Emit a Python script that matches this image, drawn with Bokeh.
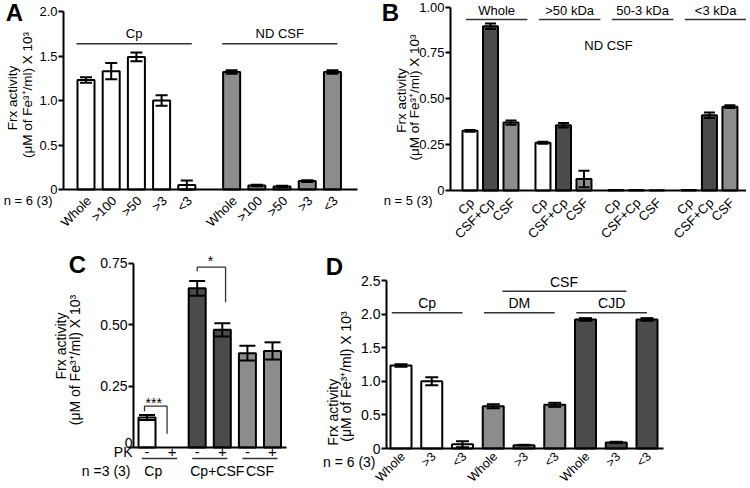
import math
from bokeh.plotting import figure
from bokeh.models import ColumnDataSource, Range1d, FixedTicker, Label
from bokeh.layouts import row, column
from bokeh.embed import file_html
from bokeh.resources import INLINE

FONT = "Liberation Sans"
DARK = "#4b4b4b"
GRAY = "#8c8c8c"
WHITE = "#ffffff"
LINE = "#333333"

Y_LINE1 = "Frx activity"
Y_LINE2 = "(\u03bcM of Fe\u00b3\u207a/ml) X 10\u00b3"

# ---------------- data ----------------
# Panel A
a_fractions = ["Whole", ">100", ">50", ">3", "<3"]
a_groups = ["Cp", "ND CSF"]
a_cp = [1.23, 1.33, 1.49, 1.00, 0.05]
a_cp_err = [0.03, 0.09, 0.05, 0.06, 0.05]
a_csf = [1.32, 0.045, 0.035, 0.095, 1.32]
a_csf_err = [0.02, 0.008, 0.006, 0.01, 0.02]
a_n = "n = 6 (3)"
a_yticks = [0, 0.5, 1.0, 1.5, 2.0]
a_yticklabels = ["0", "0.5", "1.0", "1.5", "2.0"]

# Panel B
b_groups = ["Whole", ">50 kDa", "50-3 kDa", "<3 kDa"]
b_samples = ["Cp", "CSF+Cp", "CSF"]
b_cp = [0.325, 0.26, 0.003, 0.003]
b_cp_err = [0.005, 0.005, 0.0, 0.0]
b_csfcp = [0.895, 0.356, 0.003, 0.41]
b_csfcp_err = [0.015, 0.012, 0.0, 0.015]
b_csf = [0.37, 0.063, 0.002, 0.457]
b_csf_err = [0.012, 0.045, 0.0, 0.008]
b_title = "ND CSF"
b_n = "n = 5 (3)"
b_yticks = [0, 0.25, 0.5, 0.75, 1.0]
b_yticklabels = ["0", "0.25", "0.50", "0.75", "1.00"]

# Panel C
c_groups = ["Cp", "Cp+CSF", "CSF"]
c_pk = ["-", "+"]
c_minus = [0.122, 0.648, 0.384]
c_minus_err = [0.01, 0.03, 0.03]
c_plus = [0.0, 0.479, 0.393]
c_plus_err = [0.0, 0.027, 0.035]
c_sig = ["***", "*"]
c_n = "n =3 (3)"
c_yticks = [0, 0.25, 0.5, 0.75]
c_yticklabels = ["0", "0.25", "0.50", "0.75"]

# Panel D
d_groups = ["Cp", "DM", "CJD"]
d_fractions = ["Whole", ">3", "<3"]
d_cp = [1.235, 1.0, 0.064]
d_cp_err = [0.02, 0.06, 0.045]
d_dm = [0.63, 0.05, 0.65]
d_dm_err = [0.03, 0.005, 0.03]
d_cjd = [1.92, 0.09, 1.92]
d_cjd_err = [0.02, 0.01, 0.02]
d_parent = "CSF"
d_n = "n = 6 (3)"
d_yticks = [0, 0.5, 1.0, 1.5, 2.0, 2.5]
d_yticklabels = ["0", "0.5", "1.0", "1.5", "2.0", "2.5"]


class Panel:
    """A figure whose frame covers its whole area; axes sit at fixed data locations."""

    def __init__(self, left, top, width, height, axis_left, axis_right,
                 zero_y, top_y, origin, slot, ymax):
        self.origin, self.slot, self.ymax = origin, slot, ymax
        self.zero_y = zero_y
        self.ppu = (zero_y - top_y) / ymax
        x0 = self.dx(left)
        x1 = self.dx(left + width)
        y0 = self.dy(top + height)
        y1 = self.dy(top)
        p = figure(width=width, height=height,
                   x_range=Range1d(x0, x1), y_range=Range1d(y0, y1),
                   output_backend="svg", toolbar_location=None,
                   min_border=0, min_border_left=0, min_border_right=0,
                   min_border_top=0, min_border_bottom=0)
        p.title.visible = False
        p.outline_line_color = None
        p.grid.visible = False
        p.background_fill_color = "white"
        p.border_fill_color = "white"
        self.p = p
        self.ax0 = self.dx(axis_left)
        self.ax1 = self.dx(axis_right)

    def dx(self, sx):
        return (sx - self.origin) / self.slot

    def dy(self, sy):
        return (self.zero_y - sy) / self.ppu

    def label(self, sx, sy, text, size, align="center", angle=0.0, bold=False):
        self.p.add_layout(Label(x=self.dx(sx), y=self.dy(sy), text=text,
                                text_font=FONT, text_font_size=f"{size}px",
                                text_align=align, text_baseline="middle",
                                angle=angle, text_color="black",
                                text_font_style="bold" if bold else "normal"))

    def dlabel(self, x, y, text, size, align="center", angle=0.0):
        self.p.add_layout(Label(x=x, y=y, text=text, text_font=FONT,
                                text_font_size=f"{size}px", text_align=align,
                                text_baseline="middle", text_color="black",
                                angle=angle))

    def xlabels(self, xs, names, size, below_px, shift_px):
        # category names written at 45 degrees under each bar
        for x, name in zip(xs, names):
            self.dlabel(x + shift_px / self.slot, self.dy(self.zero_y + below_px),
                        name, size, align="right", angle=math.pi / 4)

    def axes(self, yticks, yticklabels, xticks, xticklabels, fs, xfs):
        p = self.p
        for ax in (p.xaxis[0], p.yaxis[0]):
            ax.axis_line_width = 2
            ax.axis_line_color = "black"
            ax.major_label_text_font = FONT
            ax.major_label_text_color = "black"
            ax.minor_tick_line_color = None
            ax.minor_tick_out = 0
            ax.minor_tick_in = 0
        p.xaxis.fixed_location = 0
        p.xaxis.bounds = (self.ax0, self.ax1)
        p.yaxis.fixed_location = self.ax0
        p.yaxis.bounds = (0, self.ymax)
        p.yaxis.major_label_text_font_size = f"{fs}px"
        p.xaxis.major_label_text_font_size = f"{xfs}px"
        p.yaxis.ticker = FixedTicker(ticks=yticks)
        p.yaxis.major_label_overrides = {float(t): l for t, l in zip(yticks, yticklabels)}
        p.yaxis.major_tick_out = 5
        p.yaxis.major_tick_in = 0
        p.yaxis.major_tick_line_width = 2
        p.yaxis.major_label_standoff = 1
        xt = [round(x, 4) for x in xticks]
        p.xaxis.ticker = FixedTicker(ticks=xt)
        p.xaxis.major_label_overrides = {float(t): l for t, l in zip(xt, xticklabels)}
        p.xaxis.major_tick_line_color = None
        p.xaxis.major_tick_out = 0
        p.xaxis.major_tick_in = 0
        p.xaxis.major_label_standoff = -1

    def bars(self, xs, tops, errs, color, width_px, cap_px):
        w = width_px / self.slot
        cap = cap_px / self.slot
        xs = [round(x, 4) for x in xs]
        src = ColumnDataSource(dict(x=xs, top=tops))
        self.p.vbar(x="x", top="top", bottom=0, width=w, source=src,
                    fill_color=color, line_color="black", line_width=2)
        ex = [x for x, e in zip(xs, errs) if e > 0]
        et = [t for t, e in zip(tops, errs) if e > 0]
        ee = [e for e in errs if e > 0]
        if not ex:
            return
        hi = [t + e for t, e in zip(et, ee)]
        lo = [t - e for t, e in zip(et, ee)]
        self.p.segment(x0=ex, y0=lo, x1=ex, y1=hi, line_color="black", line_width=2)
        self.p.segment(x0=[x - cap / 2 for x in ex], y0=hi, x1=[x + cap / 2 for x in ex],
                       y1=hi, line_color="black", line_width=2)
        self.p.segment(x0=[x - cap / 2 for x in ex], y0=lo, x1=[x + cap / 2 for x in ex],
                       y1=lo, line_color="black", line_width=2)

    def hline(self, x0, x1, y, width=1.4):
        self.p.segment(x0=[x0], y0=[y], x1=[x1], y1=[y], line_color=LINE, line_width=width)


# ---------------- Panel A ----------------
A = Panel(0, 0, 370, 247, 63, 357, 189, 11, 85.5, 25.2, 2.0)
a_off = [0.0, 5.78]
a_x = [[g + i for i in range(len(a_fractions))] for g in a_off]
A.bars(a_x[0], a_cp, a_cp_err, WHITE, 17, 12)
A.bars(a_x[1], a_csf, a_csf_err, GRAY, 17, 12)
A.axes(a_yticks, a_yticklabels, [], [], 13, 13)
A.xlabels(a_x[0] + a_x[1], a_fractions * 2, 13, 9, 3)
for g, name in zip(a_off, a_groups):
    A.hline(g - 0.38, g + 4.2, A.dy(43.3))
    A.dlabel(g + 1.91, A.dy(33), name, 13)
A.label(14, 11.5, "A", 24, bold=True)
A.label(12, 97.5, Y_LINE1, 13.5, angle=math.pi / 2)
A.label(27, 94.5, Y_LINE2, 13.5, angle=math.pi / 2)
A.label(52, 200, a_n, 13, align="right")

# ---------------- Panel B ----------------
B = Panel(370, 0, 376, 247, 450, 746, 190, 6.5, 469.5, 20.5, 1.0)
b_goff = [g * 3.56 for g in range(len(b_groups))]
b_vals = [(b_cp, b_cp_err, WHITE), (b_csfcp, b_csfcp_err, DARK), (b_csf, b_csf_err, GRAY)]
b_ticks, b_labels = [], []
for s, (vals, errs, col) in enumerate(b_vals):
    B.bars([g + s for g in b_goff], vals, errs, col, 15, 11)
for g in b_goff:
    for s, name in enumerate(b_samples):
        b_ticks.append(g + s)
        b_labels.append(name)
B.axes(b_yticks, b_yticklabels, [], [], 13, 13)
B.xlabels(b_ticks, b_labels, 13, 10, 2)
for g, name in zip(b_goff, b_groups):
    B.hline(g - 0.2, g + 2.8, B.dy(19))
    B.dlabel(g + 1.3, B.dy(10), name, 13)
B.label(608, 45, b_title, 13)
B.label(390, 11.5, "B", 24, bold=True)
B.label(401, 100, Y_LINE1, 13.5, angle=math.pi / 2)
B.label(414, 97, Y_LINE2, 13.5, angle=math.pi / 2)
B.label(432, 200, b_n, 13, align="right")

# ---------------- Panel C ----------------
C = Panel(0, 247, 305, 239, 133, 286, 447, 262.7, 146.5, 25.1, 0.75)
c_cols = [WHITE, DARK, GRAY]
for gi in range(len(c_groups)):
    C.bars([2 * gi], [c_minus[gi]], [c_minus_err[gi]], c_cols[gi], 17, 16)
    if c_plus[gi] > 0:
        C.bars([2 * gi + 1], [c_plus[gi]], [c_plus_err[gi]], c_cols[gi], 17, 16)
C.axes(c_yticks, [""] + c_yticklabels[1:], list(range(6)), c_pk * 3, 14, 15)
C.label(132, 442.5, c_yticklabels[0], 14, align="right")
C.label(132, 451, "PK", 14, align="right")
c_label_pos = [0.25, 2.8, 4.5]
for gi, name in enumerate(c_groups):
    g = 2 * gi
    C.hline(g - 0.2, g + 1.2, C.dy(458))
    C.dlabel(c_label_pos[gi], C.dy(470), name, 14)
C.label(130, 470, c_n, 14, align="right")
# significance brackets
C.p.multi_line(xs=[[-0.1, -0.1, 0.8, 0.8], [2.0, 2.0, 3.13, 3.13]],
               ys=[[0.148, 0.168, 0.168, 0.056], [0.7175, 0.734, 0.734, 0.591]],
               line_color=LINE, line_width=1.3)
C.dlabel(0.27, 0.182, c_sig[0], 14)
C.dlabel(2.53, 0.757, c_sig[1], 14)
C.label(77, 264, "C", 24, bold=True)
C.label(60, 345.5, Y_LINE1, 14, angle=math.pi / 2)
C.label(74.5, 359.5, Y_LINE2, 14, angle=math.pi / 2)

# ---------------- Panel D ----------------
D = Panel(305, 247, 441, 239, 386, 663, 448, 280, 400.5, 30.75, 2.5)
d_vals = [(d_cp, d_cp_err, WHITE), (d_dm, d_dm_err, GRAY), (d_cjd, d_cjd_err, DARK)]
d_ticks, d_labels = [], []
for gi, (vals, errs, col) in enumerate(d_vals):
    xs = [3 * gi + i for i in range(len(d_fractions))]
    D.bars(xs, vals, errs, col, 21, 13)
    d_ticks += xs
    d_labels += d_fractions
D.axes(d_yticks, d_yticklabels, [], [], 14, 14)
D.xlabels(d_ticks, d_labels, 12.5, 6, 2)
for gi, name in enumerate(d_groups):
    g = 3 * gi
    D.hline(g - 0.3, g + 2.0, 2.02)
    D.dlabel(g + 0.85, 2.16, name, 14)
D.hline(3.3, 7.33, 2.34)
D.dlabel(5.3, 2.48, d_parent, 14)
D.label(334, 266, "D", 24, bold=True)
D.label(332, 411.7, Y_LINE1, 14, angle=math.pi / 2)
D.label(345, 376, Y_LINE2, 14, angle=math.pi / 2)
D.label(375, 461.7, d_n, 14, align="right")

layout = column(row(A.p, B.p), row(C.p, D.p))
open("out.html", "w").write(file_html(layout, INLINE))
